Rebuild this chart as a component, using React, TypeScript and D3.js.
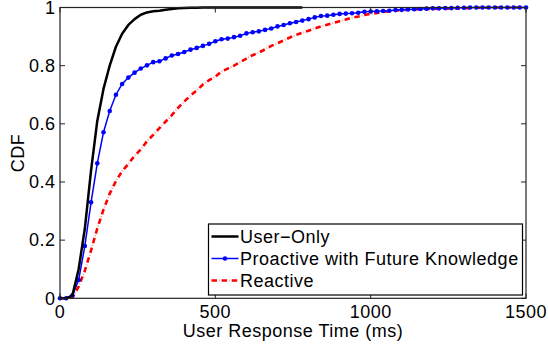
import React from "react";
import * as d3 from "d3";

// ---- data ----
const responseTimes = d3.range(0, 1501, 20); // 0,20,...,1500 ms sampling used in the figure
const userOnlyTimes = d3.range(0, 781, 20);
const userOnlyCdf = [
  0, 0, 0.01, 0.1, 0.24, 0.44, 0.61, 0.72, 0.8, 0.865,
  0.91, 0.94, 0.96, 0.975, 0.983, 0.987, 0.989, 0.992, 0.995, 0.997,
  0.998, 0.999, 0.999, 1, 1, 1, 1, 1, 1, 1,
  1, 1, 1, 1, 1, 1, 1, 1, 1, 1,
];
const proactiveCdf = [
  0, 0, 0.01, 0.063, 0.18, 0.33, 0.464, 0.571, 0.644, 0.7,
  0.737, 0.759, 0.776, 0.79, 0.801, 0.812, 0.815, 0.825, 0.835, 0.84,
  0.847, 0.855, 0.861, 0.868, 0.875, 0.884, 0.891, 0.893, 0.898, 0.903,
  0.911, 0.915, 0.918, 0.923, 0.928, 0.935, 0.94, 0.946, 0.95, 0.955,
  0.96, 0.966, 0.971, 0.972, 0.975, 0.978, 0.979, 0.98, 0.982, 0.985,
  0.986, 0.987, 0.988, 0.989, 0.991, 0.992, 0.993, 0.994, 0.995, 0.996,
  0.997, 0.997, 0.998, 0.998, 0.999, 0.999, 1, 1, 1, 1,
  1, 1, 1, 1, 1, 1,
];
const reactiveCdf = [
  0, 0, 0.003, 0.04, 0.095, 0.165, 0.24, 0.305, 0.36, 0.403,
  0.437, 0.462, 0.49, 0.512, 0.54, 0.562, 0.585, 0.608, 0.63, 0.655,
  0.677, 0.697, 0.715, 0.735, 0.75, 0.762, 0.78, 0.79, 0.8, 0.812,
  0.824, 0.836, 0.845, 0.856, 0.868, 0.877, 0.887, 0.897, 0.906, 0.913,
  0.92, 0.928, 0.935, 0.941, 0.947, 0.953, 0.959, 0.965, 0.969, 0.974,
  0.978, 0.981, 0.985, 0.987, 0.99, 0.991, 0.992, 0.993, 0.994, 0.995,
  0.995, 0.996, 0.996, 0.997, 0.997, 0.998, 0.998, 0.999, 0.999, 1,
  1, 1, 1, 1, 1, 1,
];
const xTicks = [0, 500, 1000, 1500];
const yTicks = [0, 0.2, 0.4, 0.6, 0.8, 1];
const legendLabels = ["User\u2212Only", "Proactive with Future Knowledge", "Reactive"];

const W = 548;
const H = 347;
const M = { left: 60, right: 22, top: 7.5, bottom: 48.7 };
const FONT = "'Liberation Sans', Arial, Helvetica, sans-serif";
const RED_DASH = "5.5,4.6";
const RED_DOT = "0,7.3,1,1.8";

export default function App() {
  const x = d3.scaleLinear().domain([0, 1500]).range([M.left, W - M.right]);
  const y = d3.scaleLinear().domain([0, 1]).range([H - M.bottom, M.top]);
  const line = d3
    .line<[number, number]>()
    .x((d) => x(d[0]))
    .y((d) => y(d[1]));

  const blackPts = userOnlyTimes.map((t, i) => [t, userOnlyCdf[i]] as [number, number]);
  const bluePts = responseTimes.map((t, i) => [t, proactiveCdf[i]] as [number, number]);
  const redPts = responseTimes.map((t, i) => [t, reactiveCdf[i]] as [number, number]);

  const x0 = x(0), x1 = x(1500), y0 = y(0), y1 = y(1);
  const tick = 5;
  const fs = 18;
  const ls = 0.5;

  // legend
  const lg = { x: 208.5, y: 224, w: 314, h: 71 };
  const rowY = [236.5, 258.5, 280.5];

  const redPath = line(redPts) || "";

  return (
    <svg
      width={W}
      height={H}
      style={{ position: "absolute", left: 0, top: 0, background: "#fff" }}
      fontFamily={FONT}
    >
      <rect x={0} y={0} width={W} height={H} fill="#fff" />
      {/* curves */}
      <path d={redPath} fill="none" stroke="#ff9a9a" strokeWidth={2} strokeDasharray={RED_DOT} />
      <path d={redPath} fill="none" stroke="#ff0000" strokeWidth={2.6} strokeDasharray={RED_DASH} />
      <path d={line(bluePts) || ""} fill="none" stroke="#0000ff" strokeWidth={1.5} />
      {bluePts.map((d, i) => (
        <circle key={i} cx={x(d[0])} cy={y(d[1])} r={2.3} fill="#0000ff" />
      ))}
      <path d={line(blackPts) || ""} fill="none" stroke="#000" strokeWidth={2.5} strokeLinejoin="round" />

      {/* frame */}
      <rect x={x0} y={y1} width={x1 - x0} height={y0 - y1} fill="none" stroke="#222" strokeWidth={1.2} />
      {xTicks.map((t) => (
        <g key={"xt" + t}>
          <line x1={x(t)} x2={x(t)} y1={y0} y2={y0 - tick} stroke="#222" />
          <line x1={x(t)} x2={x(t)} y1={y1} y2={y1 + tick} stroke="#222" />
          <text x={x(t)} y={318} fontSize={fs} letterSpacing={ls} textAnchor="middle" fill="#000">
            {t}
          </text>
        </g>
      ))}
      {yTicks.map((t) => (
        <g key={"yt" + t}>
          <line x1={x0} x2={x0 + tick} y1={y(t)} y2={y(t)} stroke="#222" />
          <line x1={x1} x2={x1 - tick} y1={y(t)} y2={y(t)} stroke="#222" />
          <text x={55.5} y={y(t)} dy="0.35em" fontSize={fs} letterSpacing={ls} textAnchor="end" fill="#000">
            {d3.format("~g")(t)}
          </text>
        </g>
      ))}
      <text x={293} y={337} fontSize={fs} letterSpacing={ls} textAnchor="middle" fill="#000">
        User Response Time (ms)
      </text>
      <text
        transform={`translate(24,${(y0 + y1) / 2}) rotate(-90)`}
        fontSize={fs}
        letterSpacing={ls}
        textAnchor="middle"
        fill="#000"
      >
        CDF
      </text>

      {/* legend */}
      <rect x={lg.x} y={lg.y} width={lg.w} height={lg.h} fill="#fff" stroke="#000" strokeWidth={1.2} />
      <line x1={211.5} x2={238.5} y1={rowY[0]} y2={rowY[0]} stroke="#000" strokeWidth={2.5} />
      <line x1={211.5} x2={238.5} y1={rowY[1]} y2={rowY[1]} stroke="#0000ff" strokeWidth={1.5} />
      <circle cx={225} cy={rowY[1]} r={2.2} fill="#0000ff" />
      <line x1={211.5} x2={238.5} y1={rowY[2]} y2={rowY[2]} stroke="#ff9a9a" strokeWidth={2} strokeDasharray={RED_DOT} />
      <line x1={211.5} x2={238.5} y1={rowY[2]} y2={rowY[2]} stroke="#ff0000" strokeWidth={2.6} strokeDasharray={RED_DASH} />
      {legendLabels.map((l, i) => (
        <text key={l} x={240} y={rowY[i]} dy="0.35em" fontSize={fs} letterSpacing={ls} fill="#000">
          {l}
        </text>
      ))}
    </svg>
  );
}
